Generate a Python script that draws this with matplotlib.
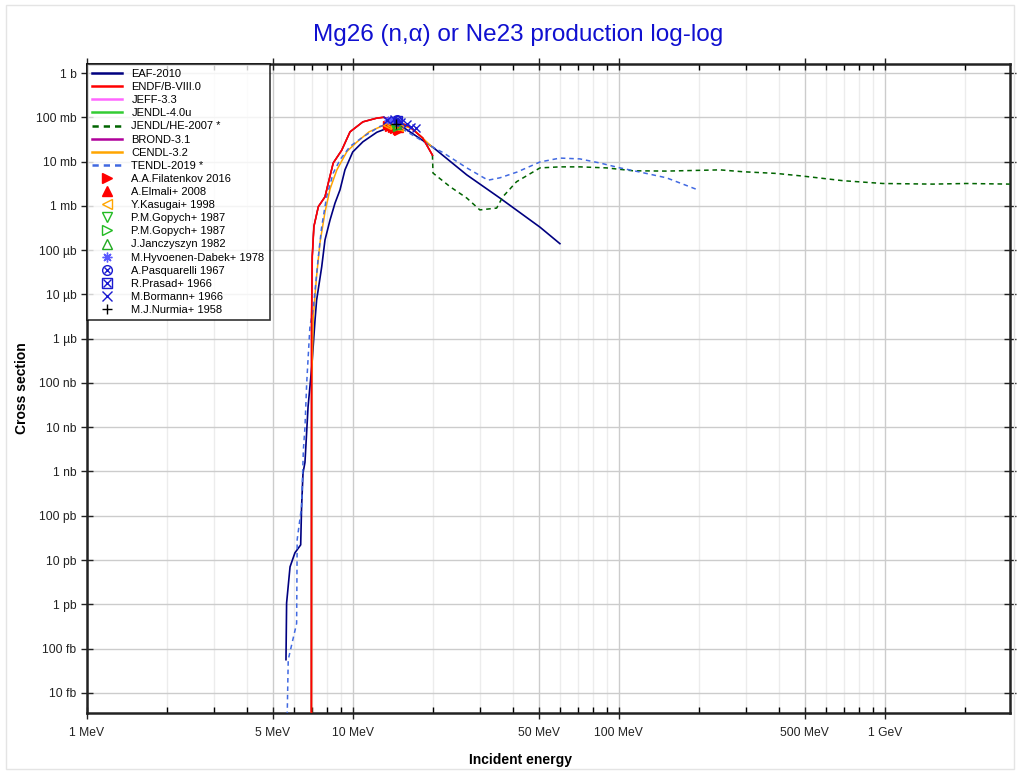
import numpy as np
import matplotlib.pyplot as plt
from matplotlib.patches import Rectangle

plt.rcParams['font.family'] = ['Liberation Sans', 'DejaVu Sans']

# evaluated libraries: energy (MeV), cross section (b)
eafE = [5.60, 5.63, 5.80, 6.05, 6.36, 6.41, 6.49, 6.60, 6.78, 7.00, 7.20, 7.30, 7.63, 7.85, 8.20,
        8.56, 8.94, 9.33, 9.98, 10.9, 12.3, 13.5, 15.0, 20.0, 26.8, 35.7, 50.5, 60.0]
eafXs = [5.6e-14, 1.07e-12, 7e-12, 1.45e-11, 2.2e-11, 1.6e-10, 9.3e-10, 1.6e-9, 2.9e-8, 2.3e-7, 2.6e-6,
         7.4e-6, 4.2e-5, 1.7e-4, 4.8e-4, 1.15e-3, 2.3e-3, 6.5e-3, 1.65e-2, 2.8e-2, 4.6e-2, 5.7e-2,
         6.7e-2, 2.1e-2, 5.0e-3, 1.5e-3, 3.3e-4, 1.4e-4]

endfE = [6.97, 6.99, 7.03, 7.13, 7.41, 7.85, 8.08, 8.43, 9.07, 9.75, 10.9, 12.3, 13.0, 14.4, 16.4, 18.3, 19.9]
endfXs = [1e-20, 3.2e-6, 7.1e-5, 3.4e-4, 9.6e-4, 1.6e-3, 3.3e-3, 9.3e-3, 1.8e-2, 4.7e-2, 7.9e-2,
          9.6e-2, 0.10, 8.7e-2, 6.0e-2, 3.4e-2, 1.4e-2]

cendlE = [6.97, 7.0, 7.09, 7.30, 7.52, 7.85, 8.20, 8.70, 9.50, 10.3, 11.5, 13.1, 14.5, 16.8, 19.9]
cendlXs = [1e-20, 1e-7, 3e-6, 2.6e-5, 1.5e-4, 7.2e-4, 2.4e-3, 6.5e-3, 1.7e-2, 2.7e-2, 4.7e-2,
           6.7e-2, 7.2e-2, 5.5e-2, 2.1e-2]

jendlheE = [19.9, 20.0, 23.2, 26.8, 30.0, 34.7, 36.6, 41.2, 50.5, 60.0, 71.3, 89.9, 113, 151, 240,
            292, 391, 492, 696, 983, 1515, 2027, 2950]
jendlheXs = [1.4e-2, 5.5e-3, 2.7e-3, 1.5e-3, 8.1e-4, 8.9e-4, 1.6e-3, 3.5e-3, 7.2e-3, 7.6e-3, 7.6e-3,
             7.2e-3, 6.2e-3, 6.1e-3, 6.5e-3, 5.9e-3, 5.4e-3, 4.7e-3, 3.7e-3, 3.2e-3, 3.1e-3, 3.2e-3, 3.1e-3]

tendlE = [5.60, 5.71, 6.14, 6.17, 6.41, 6.51, 6.60, 6.70, 6.89, 7.10, 7.41, 7.63, 7.96, 8.43, 8.94,
          9.75, 10.9, 12.6, 14.1, 20.0, 21.8, 26.8, 32.2, 35.7, 41.4, 50.5, 60.0, 71.3, 84.8, 101,
          120, 151, 198]
tendlXs = [1e-16, 5.6e-14, 3.7e-13, 2.9e-11, 1.6e-10, 3.1e-9, 1.0e-8, 1.0e-7, 1.9e-6, 5e-6, 7.1e-5,
           3.4e-4, 1.6e-3, 5.5e-3, 1.1e-2, 2.2e-2, 3.6e-2, 6.2e-2, 7.4e-2, 2.1e-2, 1.6e-2, 7.2e-3,
           3.8e-3, 4.3e-3, 5.8e-3, 9.8e-3, 1.2e-2, 1.15e-2, 9.3e-3, 7.2e-3, 5.8e-3, 4.3e-3, 2.3e-3]

# experiments: energy (MeV), cross section (b)
filatenkovE = [13.4, 13.7, 14.0, 14.3, 14.6, 14.8]
filatenkovXs = [0.066, 0.061, 0.058, 0.055, 0.052, 0.050]
elmaliE = [13.6, 14.1, 14.9]
elmaliXs = [0.075, 0.062, 0.056]
kasugaiE = [13.4, 13.9, 14.4, 14.9]
kasugaiXs = [0.068, 0.066, 0.065, 0.060]
gopychAE = [14.1]
gopychAXs = [0.070]
gopychBE = [14.7]
gopychBXs = [0.062]
janczyszynE = [14.7]
janczyszynXs = [0.066]
hyvoenenE = [13.6, 14.2, 14.7]
hyvoenenXs = [0.088, 0.085, 0.080]
pasquarelliE = [14.7]
pasquarelliXs = [0.090]
prasadE = [14.8]
prasadXs = [0.088]
bormannE = [13.4, 14.3, 15.1, 16.0, 16.6, 17.2]
bormannXs = [0.085, 0.090, 0.080, 0.070, 0.062, 0.056]
nurmiaE = [14.5]
nurmiaXs = [0.070]

xTicks = [1, 5, 10, 50, 100, 500, 1000]
xTickLabels = ["1 MeV", "5 MeV", "10 MeV", "50 MeV", "100 MeV", "500 MeV", "1 GeV"]
yTickLabels = ["10 fb", "100 fb", "1 pb", "10 pb", "100 pb", "1 nb", "10 nb", "100 nb",
               "1 µb", "10 µb", "100 µb", "1 mb", "10 mb", "100 mb", "1 b"]

fig = plt.figure(figsize=(10.2, 7.74), dpi=100)
ax = fig.add_axes([0.0853, 0.0788, 0.9047, 0.8385])
fig.patches.append(Rectangle((0.006, 0.006), 0.988, 0.988, transform=fig.transFigure,
                             fill=False, edgecolor='#e4e4e4', linewidth=1))

blue = '#1a1ad0'
ax.plot(eafE, eafXs, color='#000080', lw=1.2, label='EAF-2010', zorder=3)
ax.plot(endfE, endfXs, color='#ff0000', lw=1.2, label='ENDF/B-VIII.0', zorder=4)
ax.plot(endfE, endfXs, color='#ff66ff', lw=1.0, label='JEFF-3.3', zorder=2)
ax.plot(endfE, endfXs, color='#33cc33', lw=1.0, label='JENDL-4.0u', zorder=2)
ax.plot(jendlheE, jendlheXs, color='#006400', lw=1.1, ls=(0, (3, 2.5)), label='JENDL/HE-2007 *', zorder=3)
ax.plot(endfE, endfXs, color='#b0009b', lw=1.0, label='BROND-3.1', zorder=2)
ax.plot(cendlE, cendlXs, color='#ffa500', lw=1.1, label='CENDL-3.2', zorder=3)
ax.plot(tendlE, tendlXs, color='#4169e1', lw=1.1, ls=(0, (3, 2.5)), label='TENDL-2019 *', zorder=3)

ms = 5.5
ast = (8, 2, 0)
ax.plot(filatenkovE, filatenkovXs, '>', color='red', ms=ms, ls='none', label='A.A.Filatenkov 2016', zorder=5)
ax.plot(elmaliE, elmaliXs, '^', color='red', ms=ms, ls='none', label='A.Elmali+ 2008', zorder=5)
ax.plot(kasugaiE, kasugaiXs, '<', mfc='none', mec='orange', ms=ms, ls='none', label='Y.Kasugai+ 1998', zorder=5)
ax.plot(gopychAE, gopychAXs, 'v', mfc='none', mec='#22bb22', ms=ms, ls='none', label='P.M.Gopych+ 1987', zorder=5)
ax.plot(gopychBE, gopychBXs, '>', mfc='none', mec='#22bb22', ms=ms, ls='none', label='P.M.Gopych+ 1987', zorder=5)
ax.plot(janczyszynE, janczyszynXs, '^', mfc='none', mec='#22aa22', ms=ms, ls='none', label='J.Janczyszyn 1982', zorder=5)
ax.plot(hyvoenenE, hyvoenenXs, marker=ast, color='#5a5aff', ms=ms, ls='none', label='M.Hyvoenen-Dabek+ 1978', zorder=5)
ax.plot(pasquarelliE, pasquarelliXs, 'o', mfc='none', mec=blue, ms=ms, ls='none', zorder=5)
ax.plot(pasquarelliE, pasquarelliXs, 'x', color=blue, ms=ms * 0.7, ls='none', zorder=5)
ax.plot(prasadE, prasadXs, 's', mfc='none', mec=blue, ms=ms, ls='none', zorder=5)
ax.plot(prasadE, prasadXs, 'x', color=blue, ms=ms * 0.8, ls='none', zorder=5)
ax.plot(bormannE, bormannXs, 'x', color=blue, ms=ms, ls='none', label='M.Bormann+ 1966', zorder=5)
ax.plot(nurmiaE, nurmiaXs, '+', color='black', ms=ms + 2, ls='none', label='M.J.Nurmia+ 1958', zorder=5)

ax.set_xscale('log')
ax.set_yscale('log')
ax.set_xlim(1, 2950)
ax.set_ylim(3.5e-15, 1.6)

ax.set_xticks(xTicks)
ax.set_xticklabels(xTickLabels)
minorX = [m * 10 ** d for d in range(4) for m in range(2, 10)]
minorX = [v for v in minorX if v not in xTicks and v < 2950]
ax.set_xticks(minorX, minor=True)
ax.set_yticks([10.0 ** p for p in range(-14, 1)])
ax.set_yticklabels(yTickLabels)
ax.yaxis.set_minor_locator(plt.NullLocator())
ax.tick_params(which='major', direction='inout', length=8, width=1, labelsize=8.7, colors='#222222',
               top=True, right=True, labelcolor='#222222')
ax.tick_params(which='minor', direction='in', length=4, width=1, top=True, right=True)
ax.tick_params(axis='x', which='major', pad=6)
ax.grid(True, which='major', color='#cccccc', lw=1)
ax.grid(True, which='minor', axis='x', color='#ececec', lw=1)
ax.set_axisbelow(True)
for s in ax.spines.values():
    s.set_linewidth(1.8)
    s.set_color('#222222')

ax.set_xlabel('Incident energy', fontsize=10, fontweight='bold')
ax.xaxis.set_label_coords(0.47, -0.061)
ax.set_ylabel('Cross section', fontsize=10, fontweight='bold', labelpad=5)
fig.text(0.508, 0.955, 'Mg26 (n,α) or Ne23 production log-log', color='#1010d0', fontsize=17.5,
         ha='center', va='center')

# legend: add combined symbols for Pasquarelli and Prasad
handles, labels = ax.get_legend_handles_labels()
pasqHandle = (plt.Line2D([], [], marker='o', mfc='none', mec=blue, ls='none', ms=7),
              plt.Line2D([], [], marker='x', color=blue, ls='none', ms=5))
prasHandle = (plt.Line2D([], [], marker='s', mfc='none', mec=blue, ls='none', ms=7),
              plt.Line2D([], [], marker='x', color=blue, ls='none', ms=6))
idx = labels.index('M.Bormann+ 1966')
handles[idx:idx] = [pasqHandle, prasHandle]
labels[idx:idx] = ['A.Pasquarelli 1967', 'R.Prasad+ 1966']
legendHandles = []
for h in handles:
    if isinstance(h, plt.Line2D) and h.get_marker() not in (None, 'None', ''):
        legendHandles.append(plt.Line2D([], [], marker=h.get_marker(), ls='none', ms=7,
                                        mfc=h.get_markerfacecolor(), mec=h.get_markeredgecolor()))
    elif isinstance(h, plt.Line2D):
        legendHandles.append(plt.Line2D([], [], color=h.get_color(), ls=h.get_linestyle(),
                                        lw=1.8, dashes=(2.5, 2) if h.get_linestyle() != '-' else (None, None)))
    else:
        legendHandles.append(h)
leg = ax.legend(legendHandles, labels, loc='upper left', fontsize=8, frameon=True, fancybox=False,
                edgecolor='black', borderaxespad=0, handlelength=2.7, labelspacing=0.28,
                handletextpad=0.85, borderpad=0.45)
leg.get_frame().set_linewidth(1.2)
leg.set_zorder(10)

fig.savefig('out.png', dpi=100)
